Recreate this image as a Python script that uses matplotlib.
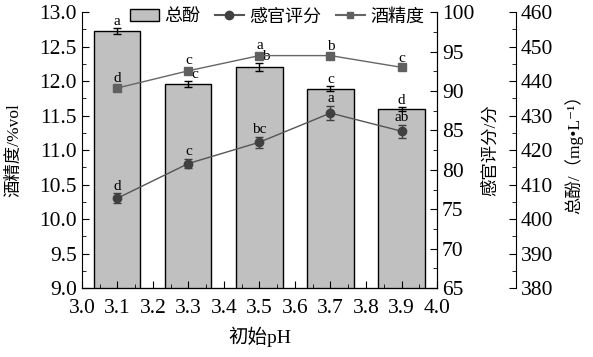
import matplotlib.pyplot as plt
from matplotlib.ticker import MultipleLocator
from matplotlib.lines import Line2D
from matplotlib.patches import Patch

plt.rcParams['font.family'] = ['Liberation Serif', 'Noto Sans CJK SC', 'DejaVu Sans']

ph = [3.1, 3.3, 3.5, 3.7, 3.9]
phenol = [454.5, 439.1, 444.0, 437.8, 431.9]
phenol_err = [0.9, 0.8, 1.2, 0.8, 0.6]
phenol_sig = ['a', 'c', 'b', 'c', 'd']
sensory = [76.4, 80.8, 83.5, 87.2, 84.9]
sensory_err = [0.6, 0.6, 0.7, 0.9, 0.8]
sensory_sig = ['d', 'c', 'bc', 'a', 'ab']
alcohol = [11.90, 12.15, 12.37, 12.37, 12.20]
alcohol_err = [0.03, 0.03, 0.03, 0.02, 0.02]
alcohol_sig = ['d', 'c', 'a', 'b', 'c']

fig = plt.figure(figsize=(5.93, 3.57), dpi=100)
ax = fig.add_axes([0.138, 0.193, 0.599, 0.773])
ax2 = ax.twinx()
ax3 = ax.twinx()
ax3.spines['right'].set_position(('axes', 1.223))

# bars (total phenol, third axis) sit behind the two line series
ax.set_zorder(3)
ax.patch.set_visible(False)
ax2.set_zorder(2)
ax3.set_zorder(1)

ax3.bar(ph, phenol, width=0.13, color='#c0c0c0', edgecolor='black', linewidth=1.0)
ax3.errorbar(ph, phenol, yerr=phenol_err, fmt='none', ecolor='black', capsize=3, elinewidth=1)
# letters of bars 2 and 3 are nudged right of the cap, as in the source
nudge = [0, 0.017, 0.017, 0, 0]
for x, v, e, s, dx in zip(ph, phenol, phenol_err, phenol_sig, nudge):
    ax3.text(x + dx, v + e + 0.1, s, ha='center', va='bottom', fontsize=11)
ax3.set_ylim(380, 460)
ax3.yaxis.set_major_locator(MultipleLocator(10))
ax3.yaxis.set_minor_locator(MultipleLocator(5))

ax2.errorbar(ph, sensory, yerr=sensory_err, color='#555555', marker='o', markersize=6,
             mfc='#404040', mec='#404040', lw=1, ecolor='#404040', capsize=3, elinewidth=1)
for x, v, e, s in zip(ph, sensory, sensory_err, sensory_sig):
    ax2.text(x, v + e + 0.1, s, ha='center', va='bottom', fontsize=11)
ax2.set_ylim(65, 100)
ax2.yaxis.set_major_locator(MultipleLocator(5))
ax2.yaxis.set_minor_locator(MultipleLocator(2.5))

ax.errorbar(ph, alcohol, yerr=alcohol_err, color='#666666', marker='s', markersize=5.5,
            mfc='#606060', mec='#606060', lw=1, ecolor='#606060', capsize=2, elinewidth=1)
for x, v, e, s in zip(ph, alcohol, alcohol_err, alcohol_sig):
    ax.text(x, v + e + 0.02, s, ha='center', va='bottom', fontsize=11)
ax.set_xlim(3.0, 4.0)
ax.set_ylim(9.0, 13.0)
ax.xaxis.set_major_locator(MultipleLocator(0.1))
ax.xaxis.set_minor_locator(MultipleLocator(0.05))
ax.yaxis.set_major_locator(MultipleLocator(0.5))
ax.yaxis.set_minor_locator(MultipleLocator(0.25))
ax.xaxis.set_major_formatter(plt.FuncFormatter(lambda v, p: f'{v:.1f}'))
ax.yaxis.set_major_formatter(plt.FuncFormatter(lambda v, p: f'{v:.1f}'))

for a in (ax, ax2, ax3):
    a.spines['top'].set_visible(False)
    a.tick_params(which='both', direction='in', labelsize=15.5)
    a.tick_params(which='major', length=5)
    a.tick_params(which='minor', length=3)
ax.tick_params(axis='x', which='major', pad=8)
ax3.spines['left'].set_visible(False)
ax2.spines['left'].set_visible(False)

ax.set_xlabel('初始pH', fontsize=14, labelpad=6)
ax.set_ylabel('酒精度/%vol', fontsize=12.5, labelpad=12)
ax2.set_ylabel('感官评分/分', fontsize=12.5, labelpad=6)
ax3.set_ylabel('总酚/（mg•L⁻¹）', fontsize=12.5, labelpad=8)

handles = [
    Patch(facecolor='#c0c0c0', edgecolor='black', label='总酚'),
    Line2D([], [], color='#555555', marker='o', mfc='#404040', mec='#404040', markersize=6, label='感官评分'),
    Line2D([], [], color='#666666', marker='s', mfc='#606060', mec='#606060', markersize=5, label='酒精度'),
]
ax.legend(handles=handles, loc='upper center', bbox_to_anchor=(0.55, 1.04), ncol=3, frameon=False,
          fontsize=13, handlelength=1.6, handletextpad=0.3, columnspacing=0.8, borderaxespad=0)

fig.savefig('out.png', dpi=100)
